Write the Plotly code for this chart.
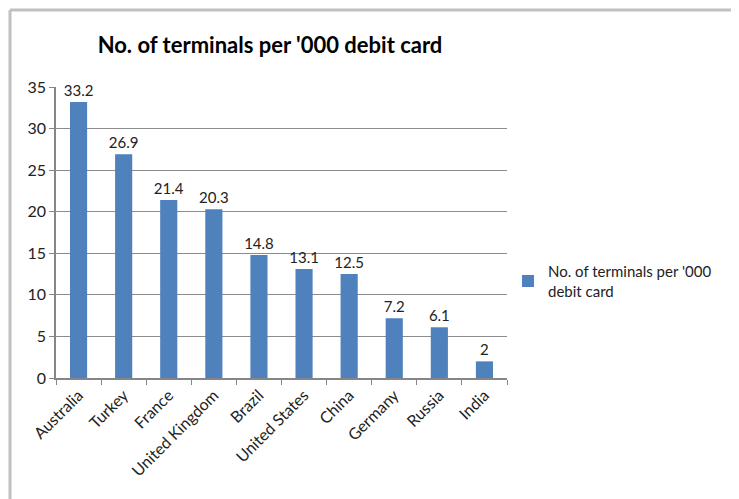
import plotly.graph_objects as go

countries = ["Australia", "Turkey", "France", "United Kingdom", "Brazil",
             "United States", "China", "Germany", "Russia", "India"]
values = [33.2, 26.9, 21.4, 20.3, 14.8, 13.1, 12.5, 7.2, 6.1, 2]
series_name = "No. of terminals per '000 debit card"
title_text = "No. of terminals per '000 debit card"
y_ticks = [0, 5, 10, 15, 20, 25, 30, 35]

# page body has an 8px margin; positions below are in figure coordinates
OFF = 8
W, H = 739, 499
L, T = 56 - OFF, 87 - OFF
plot_right, plot_bottom = 507 - OFF, 378 - OFF
R, B = W - plot_right, H - plot_bottom
pw, ph = W - L - R, H - T - B

font_family = "Lato, 'Open Sans', sans-serif"

fig = go.Figure()
fig.add_trace(go.Bar(
    x=countries, y=values, name="No. of terminals per '000<br>debit card",
    marker=dict(color="#4F81BD", line=dict(width=0)),
    text=[f"{v:g}" for v in values], textposition="outside",
    constraintext="none",
    textfont=dict(size=15, color="#222222", family=font_family),
    cliponaxis=False, showlegend=True,
))

fx0 = (10 - OFF - L) / pw
fy_top = 1 + (T - (10 - OFF)) / ph
fy_bot = -(B + 10) / ph
fx_right = (W + 10 - L) / pw
shapes = [
    dict(type="line", xref="paper", yref="paper", x0=fx0, x1=fx0, y0=fy_bot, y1=fy_top,
         line=dict(color="#c0c0c0", width=3)),
    dict(type="line", xref="paper", yref="paper", x0=fx0, x1=fx_right, y0=fy_top, y1=fy_top,
         line=dict(color="#c0c0c0", width=3)),
]

fig.update_layout(
    width=W, height=H,
    margin=dict(l=L, r=R, t=T, b=B, pad=0, autoexpand=False),
    paper_bgcolor="white", plot_bgcolor="white",
    font=dict(family=font_family, size=15, color="#222222"),
    title=dict(text="<b>" + title_text + "</b>", x=(270 - OFF) / W, xanchor="center",
               y=1 - (45 - OFF) / H, yanchor="middle", yref="container", xref="container",
               automargin=False,
               font=dict(size=22, color="#000000", family=font_family)),
    bargap=0.62,
    showlegend=True,
    legend=dict(x=(508 - OFF - L) / pw, y=(378 - 281) / ph, xanchor="left", yanchor="middle",
                font=dict(size=15, color="#222222"), bgcolor="rgba(0,0,0,0)",
                itemwidth=30, tracegroupgap=0),
    xaxis=dict(
        type="category", tickangle=-45, tickson="boundaries", automargin=False,
        ticks="outside", ticklen=5, tickcolor="#868686",
        showline=True, linecolor="#868686", linewidth=1.5,
        showgrid=False, tickfont=dict(size=16, color="#222222"),
    ),
    yaxis=dict(
        range=[0, 35], tickvals=y_ticks, ticks="outside", ticklen=5, tickcolor="#868686",
        automargin=False,
        showline=True, linecolor="#868686", linewidth=1.5,
        showgrid=True, gridcolor="#8c8c8c", gridwidth=1.2,
        zeroline=False, tickfont=dict(size=16, color="#222222"),
    ),
    shapes=shapes,
)

fig.write_html("out.html")
